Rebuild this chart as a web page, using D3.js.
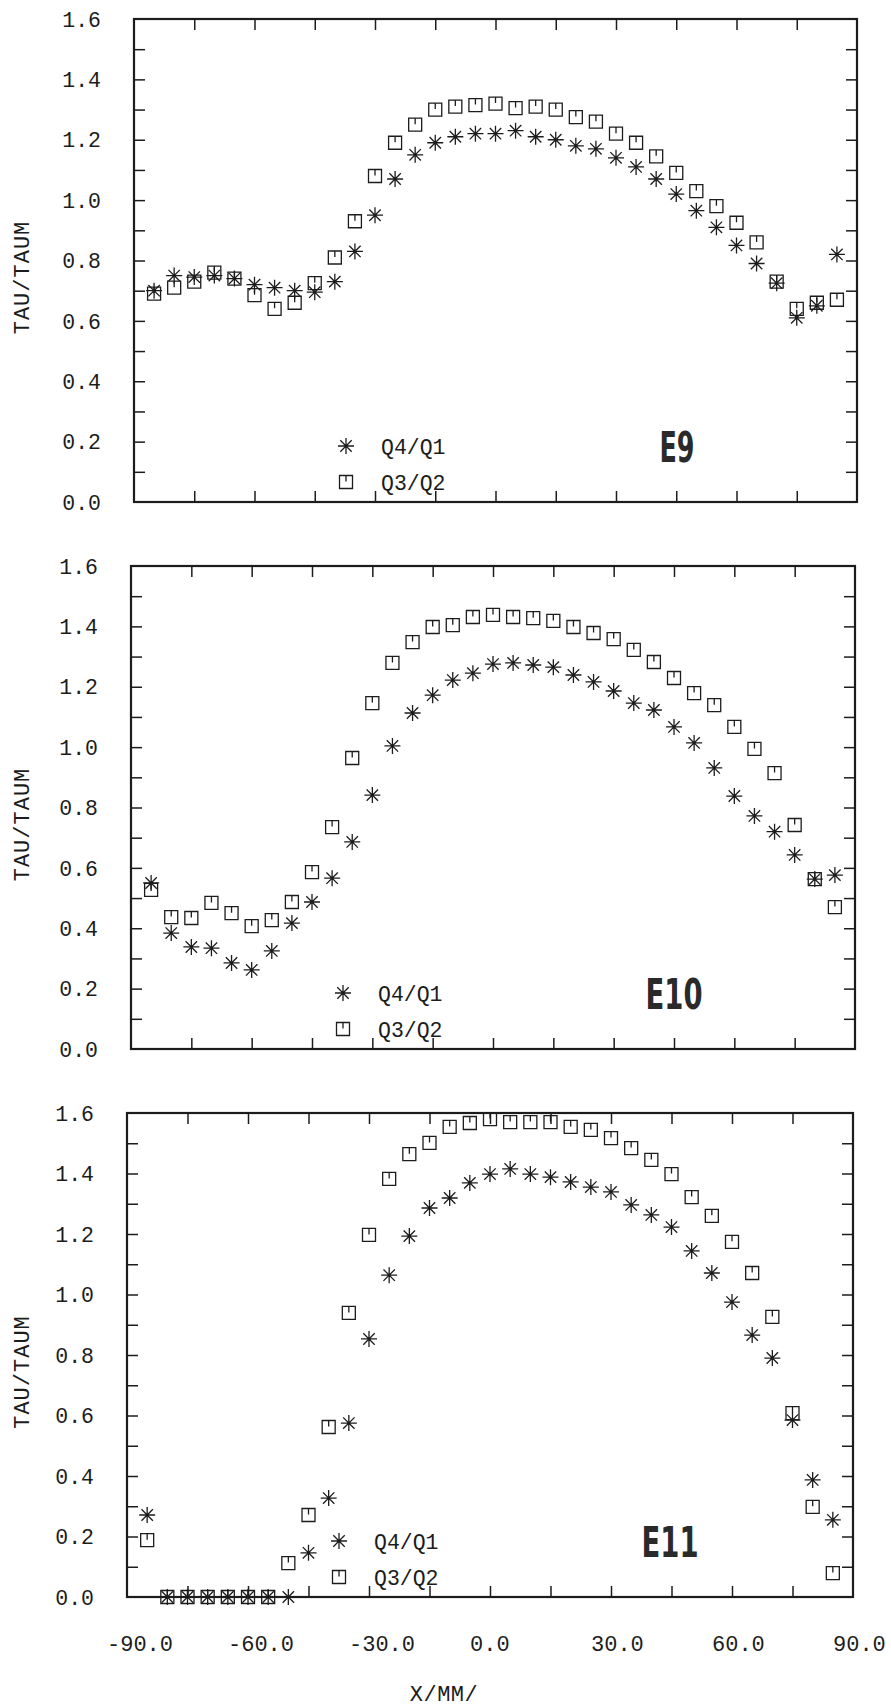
<!DOCTYPE html>
<html><head><meta charset="utf-8">
<script src="https://cdn.jsdelivr.net/npm/d3@7"></script>
<style>
html,body{margin:0;padding:0;background:#fff;}
svg{display:block;}
</style></head><body>
<script>
// ---------------- DATA ----------------
const xValues = [-85,-80,-75,-70,-65,-60,-55,-50,-45,-40,-35,-30,-25,-20,-15,-10,-5,0,5,10,15,20,25,30,35,40,45,50,55,60,65,70,75,80,85];

const e9Q4Q1 = [0.70,0.75,0.745,0.75,0.74,0.72,0.71,0.70,0.695,0.73,0.83,0.95,1.07,1.15,1.19,1.21,1.22,1.22,1.23,1.21,1.20,1.18,1.17,1.14,1.11,1.07,1.02,0.965,0.91,0.85,0.79,0.725,0.61,0.65,0.82];
const e9Q3Q2 = [0.69,0.71,0.73,0.76,0.74,0.685,0.64,0.66,0.725,0.81,0.93,1.08,1.19,1.25,1.30,1.31,1.315,1.32,1.305,1.31,1.30,1.275,1.26,1.22,1.19,1.145,1.09,1.03,0.98,0.925,0.86,0.73,0.64,0.66,0.67];

const e10Q4Q1 = [0.55,0.384,0.338,0.334,0.285,0.262,0.325,0.417,0.487,0.566,0.686,0.841,1.004,1.113,1.172,1.222,1.245,1.275,1.279,1.272,1.265,1.239,1.216,1.186,1.146,1.123,1.067,1.014,0.931,0.838,0.772,0.72,0.643,0.563,0.576];
const e10Q3Q2 = [0.527,0.437,0.434,0.484,0.45,0.407,0.427,0.487,0.586,0.735,0.964,1.146,1.279,1.348,1.398,1.404,1.431,1.438,1.431,1.427,1.418,1.398,1.378,1.358,1.322,1.282,1.229,1.179,1.139,1.067,0.994,0.914,0.742,0.563,0.47];

const e11Q4Q1 = [0.271,0,0,0,0,0,0,0,0.146,0.327,0.575,0.853,1.064,1.193,1.286,1.319,1.369,1.398,1.415,1.398,1.388,1.372,1.355,1.339,1.296,1.263,1.223,1.144,1.071,0.975,0.866,0.79,0.585,0.387,0.255];
const e11Q3Q2 = [0.188,0,0,0,0,0,0,0.112,0.271,0.562,0.939,1.197,1.382,1.464,1.501,1.554,1.567,1.58,1.57,1.57,1.57,1.554,1.544,1.517,1.484,1.445,1.398,1.322,1.26,1.174,1.071,0.926,0.608,0.298,0.079];

const panelNames = ["E9","E10","E11"];
const seriesNames = ["Q4/Q1","Q3/Q2"];
const yTickLabels = ["0.0","0.2","0.4","0.6","0.8","1.0","1.2","1.4","1.6"];
const xTickLabels = ["-90.0","-60.0","-30.0","0.0","30.0","60.0","90.0"];
const yMinorTicks = [0.1,0.2,0.3,0.4,0.5,0.6,0.7,0.8,0.9,1.0,1.1,1.2,1.3,1.4,1.5];
const xMinorTicks = [-75,-60,-45,-30,-15,0,15,30,45,60,75];
const yTitle = "TAU/TAUM";
const xTitle = "X/MM/";

// ---------------- LAYOUT ----------------
const W = 891, H = 1708;
const ink = "#1c1c1c";
const monoFont = "'Liberation Mono','DejaVu Sans Mono',monospace";
const layout = [
  {left:134, top:19,   width:723, height:483, titleLen:35},
  {left:131, top:566,  width:724, height:483, titleLen:57},
  {left:127, top:1113, width:726, height:484, titleLen:57}
];
const panelSeries = [[e9Q4Q1,e9Q3Q2],[e10Q4Q1,e10Q3Q2],[e11Q4Q1,e11Q3Q2]];

const svg = d3.select("body").append("svg")
  .attr("width", W).attr("height", H)
  .style("background","#fff");

const starPath = "M-8,0H8M0,-8V8M-5.7,-5.7L5.7,5.7M-5.7,5.7L5.7,-5.7";
const squarePath = "M-6.5,-6.5H6.5V6.5H-6.5ZM0,-6.5V-0.5";
const markerPaths = [starPath, squarePath];

layout.forEach((L, pi) => {
  const g = svg.append("g");
  const x = d3.scaleLinear().domain([-90, 90]).range([L.left, L.left + L.width]);
  const y = d3.scaleLinear().domain([0, 1.6]).range([L.top + L.height, L.top]);

  const styleAxis = sel => {
    sel.select(".domain").remove();
    sel.selectAll(".tick line").attr("stroke", ink).attr("stroke-width", 1.5);
  };

  // inward ticks
  g.append("g").attr("transform", `translate(${L.left},0)`)
    .call(d3.axisLeft(y).tickValues(yMinorTicks).tickSize(-11).tickFormat(""))
    .call(styleAxis);
  g.append("g").attr("transform", `translate(${L.left + L.width},0)`)
    .call(d3.axisRight(y).tickValues(yMinorTicks).tickSize(-11).tickFormat(""))
    .call(styleAxis);
  g.append("g").attr("transform", `translate(0,${L.top})`)
    .call(d3.axisTop(x).tickValues(xMinorTicks).tickSize(-11).tickFormat(""))
    .call(styleAxis);
  g.append("g").attr("transform", `translate(0,${L.top + L.height})`)
    .call(d3.axisBottom(x).tickValues(xMinorTicks).tickSize(-11).tickFormat(""))
    .call(styleAxis);

  // frame
  g.append("rect")
    .attr("x", x(-90)).attr("y", y(1.6))
    .attr("width", x(90) - x(-90)).attr("height", y(0) - y(1.6))
    .attr("fill", "none").attr("stroke", ink).attr("stroke-width", 2.2);

  // y tick labels
  g.selectAll("text.ylab").data(yTickLabels).join("text")
    .attr("class","ylab")
    .attr("x", L.left - 33)
    .attr("y", d => y(+d))
    .attr("dy", "0.36em")
    .attr("text-anchor", "end")
    .attr("font-family", monoFont).attr("font-size", 21.5)
    .attr("fill", ink)
    .text(d => d);

  // y axis title
  g.append("text")
    .attr("transform", `translate(21,${L.top + L.height/2 + 17}) rotate(-90)`)
    .attr("text-anchor", "middle").attr("dy", "0.36em")
    .attr("font-family", monoFont).attr("font-size", 22)
    .attr("letter-spacing", 1)
    .attr("fill", ink)
    .text(yTitle);

  // markers
  panelSeries[pi].forEach((vals, si) => {
    g.selectAll(`path.m${si}`).data(vals.map((v,i) => [xValues[i], v])).join("path")
      .attr("class", `m${si}`)
      .attr("transform", d => `translate(${x(d[0])},${y(d[1])})`)
      .attr("d", markerPaths[si])
      .attr("fill", "none").attr("stroke", ink).attr("stroke-width", 1.3);
  });

  // legend
  const legOffsets = [-56, -20];
  seriesNames.forEach((name, si) => {
    const ly = L.top + L.height + legOffsets[si];
    g.append("path").attr("transform", `translate(${L.left + 212},${ly})`)
      .attr("d", markerPaths[si])
      .attr("fill", "none").attr("stroke", ink).attr("stroke-width", 1.3);
    g.append("text").attr("x", L.left + 247).attr("y", ly).attr("dy", "0.36em")
      .attr("font-family", monoFont).attr("font-size", 21.5)
      .attr("fill", ink).text(name);
  });

  // panel title
  g.append("text")
    .attr("x", L.left + 543 - L.titleLen/2).attr("y", L.top + L.height - 40)
    .attr("textLength", L.titleLen).attr("lengthAdjust", "spacingAndGlyphs")
    .attr("font-family", "'Liberation Sans Narrow','DejaVu Sans Condensed','Liberation Sans',sans-serif")
    .attr("font-weight", "bold").attr("font-size", 43)
    .attr("fill", "#2a2a2a")
    .text(panelNames[pi]);

  // x tick labels on last panel
  if (pi === layout.length - 1) {
    g.selectAll("text.xlab").data(xTickLabels).join("text")
      .attr("class","xlab")
      .attr("x", d => x(+d) - 20)
      .attr("y", 1643).attr("dy", "0.36em")
      .attr("text-anchor", "start")
      .attr("font-family", monoFont).attr("font-size", 22)
      .attr("fill", ink)
      .text(d => d);
    g.append("text")
      .attr("x", 444).attr("y", 1693).attr("dy", "0.36em")
      .attr("text-anchor", "middle")
      .attr("font-family", monoFont).attr("font-size", 22)
      .attr("letter-spacing", 0.5)
      .attr("fill", ink).text(xTitle);
  }
});
</script>
</body></html>
